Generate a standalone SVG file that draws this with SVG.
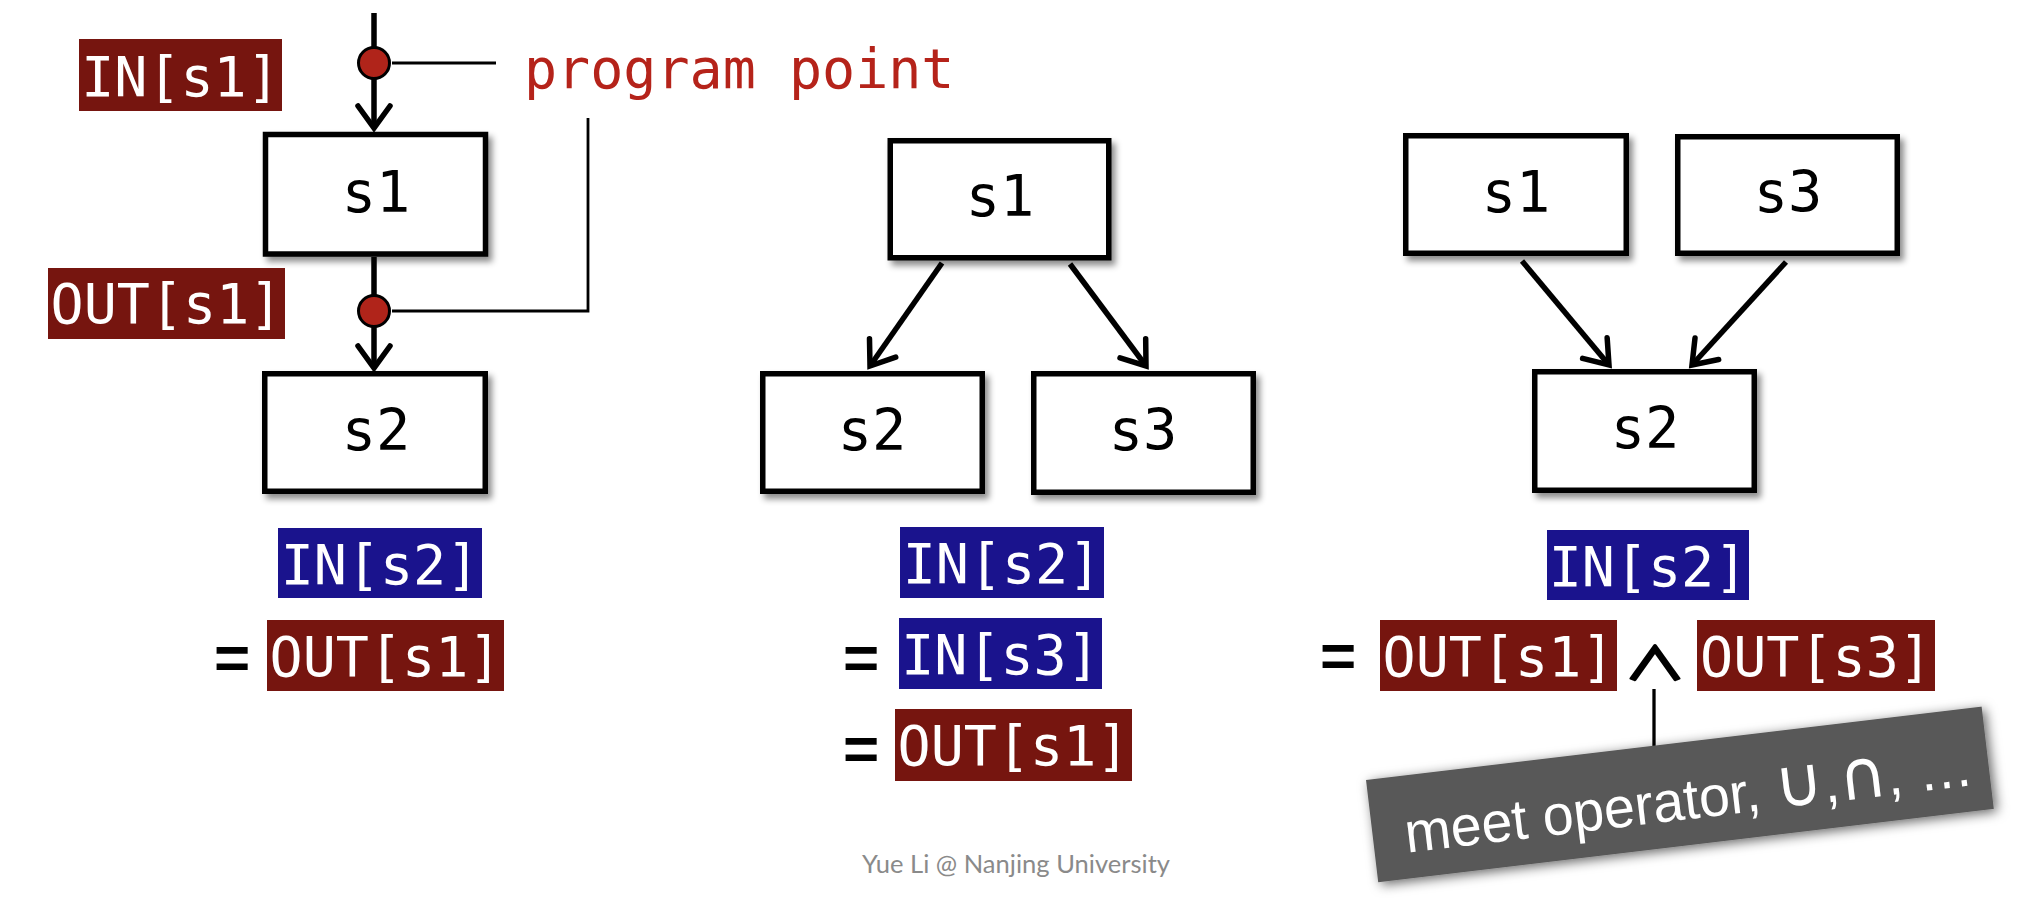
<svg xmlns="http://www.w3.org/2000/svg" width="2039" height="909" viewBox="0 0 2039 909">
<defs>
<filter id="sh" x="-10%" y="-10%" width="130%" height="140%">
<feDropShadow dx="4" dy="5" stdDeviation="3" flood-color="#000" flood-opacity="0.45"/>
</filter>
<filter id="sh2" x="-10%" y="-30%" width="125%" height="170%">
<feDropShadow dx="3" dy="3" stdDeviation="6" flood-color="#000" flood-opacity="0.6"/>
</filter>
<marker id="arr" markerUnits="userSpaceOnUse" markerWidth="40" markerHeight="40" refX="0" refY="0" orient="auto" overflow="visible">
<path d="M-22,-16 L0,0 L-22,16" fill="none" stroke="#000" stroke-width="5.5" stroke-linecap="round" stroke-linejoin="miter"/>
</marker>
</defs>
<style>
.box{fill:#fff;stroke:#000;stroke-width:5.5;filter:url(#sh)}
.bt{font-family:"DejaVu Sans Mono","Liberation Mono",monospace;font-size:57px;fill:#000;text-anchor:middle}
.lt{font-family:"DejaVu Sans Mono","Liberation Mono",monospace;font-size:55px;fill:#fff;text-anchor:middle}
.red{fill:#76150F}
.blue{fill:#1A138D}
.eq{font-family:"Liberation Sans",Arial,sans-serif;font-weight:bold;font-size:62px;fill:#000;text-anchor:middle}
.ln{fill:none;stroke:#000;stroke-width:5.5}
.thin{fill:none;stroke:#000;stroke-width:2.8}
.pt{fill:#B0241A;stroke:#000;stroke-width:3}
.op{font-family:"DejaVu Sans",sans-serif;font-size:68px}
</style>
<rect width="2039" height="909" fill="#fff"/>

<g id="connectors">
<line class="ln" x1="374" y1="13" x2="374" y2="128" marker-end="url(#arr)"/>
<line class="ln" x1="374" y1="257" x2="374" y2="368" marker-end="url(#arr)"/>
<line class="thin" x1="392" y1="63" x2="496" y2="63"/>
<polyline class="thin" points="392,311 588,311 588,118"/>
<line class="ln" x1="942" y1="263" x2="870" y2="366" marker-end="url(#arr)"/>
<line class="ln" x1="1070" y1="264" x2="1146" y2="366" marker-end="url(#arr)"/>
<line class="ln" x1="1522" y1="261" x2="1609" y2="365" marker-end="url(#arr)"/>
<line class="ln" x1="1786" y1="262" x2="1692" y2="365" marker-end="url(#arr)"/>
<line x1="1654" y1="689" x2="1654" y2="752" stroke="#000" stroke-width="3.3"/>
</g>

<g id="pp-in"><circle class="pt" cx="374" cy="63" r="15.5"/></g>
<g id="pp-out"><circle class="pt" cx="374" cy="311" r="15.5"/></g>
<g id="label-program-point"><text x="524" y="88" font-family="DejaVu Sans Mono, Liberation Mono, monospace" font-size="55" fill="#B5231A">program point</text></g>

<g id="p1-in-s1"><rect class="red" x="79" y="39" width="203" height="72"/><text class="lt" x="180.5" y="96">IN[s1]</text></g>
<g id="p1-out-s1"><rect class="red" x="48" y="268" width="237" height="71"/><text class="lt" x="166.5" y="323">OUT[s1]</text></g>

<g id="p1-s1"><rect class="box" x="265.5" y="134.5" width="220" height="119.5"/><text class="bt" x="376" y="212">s1</text></g>
<g id="p1-s2"><rect class="box" x="264.75" y="373.75" width="220.5" height="117.5"/><text class="bt" x="376" y="450">s2</text></g>

<g id="p1-eq">
<rect class="blue" x="278" y="528" width="204" height="70"/><text class="lt" x="380" y="584">IN[s2]</text>
<text class="eq" x="232" y="679">=</text>
<rect class="red" x="267" y="620" width="237" height="71"/><text class="lt" x="385.5" y="676">OUT[s1]</text>
</g>

<g id="p2-s1"><rect class="box" x="890.25" y="140.75" width="218.5" height="117"/><text class="bt" x="1000" y="216">s1</text></g>
<g id="p2-s2"><rect class="box" x="762.75" y="373.75" width="219.5" height="117.5"/><text class="bt" x="872" y="450">s2</text></g>
<g id="p2-s3"><rect class="box" x="1033.75" y="373.75" width="219.5" height="118.5"/><text class="bt" x="1143" y="450">s3</text></g>

<g id="p2-eq">
<rect class="blue" x="900" y="527" width="204" height="71"/><text class="lt" x="1002" y="583">IN[s2]</text>
<text class="eq" x="861" y="679">=</text>
<rect class="blue" x="899" y="618" width="203" height="71"/><text class="lt" x="1000.5" y="674">IN[s3]</text>
<text class="eq" x="861" y="770">=</text>
<rect class="red" x="895" y="709" width="237" height="72"/><text class="lt" x="1013.5" y="765">OUT[s1]</text>
</g>

<g id="p3-s1"><rect class="box" x="1405.75" y="135.75" width="220.5" height="117.5"/><text class="bt" x="1516" y="212">s1</text></g>
<g id="p3-s3"><rect class="box" x="1677.75" y="136.75" width="219.5" height="116.5"/><text class="bt" x="1788" y="212">s3</text></g>
<g id="p3-s2"><rect class="box" x="1534.75" y="371.75" width="219.5" height="118.5"/><text class="bt" x="1645" y="448">s2</text></g>

<g id="p3-eq">
<rect class="blue" x="1547" y="530" width="202" height="70"/><text class="lt" x="1648" y="586">IN[s2]</text>
<text class="eq" x="1338" y="677">=</text>
<rect class="red" x="1380" y="620" width="237" height="71"/><text class="lt" x="1498.5" y="676">OUT[s1]</text>
<text transform="translate(1655,680) scale(1.0,0.72)" x="0" y="0" font-family="Noto Sans CJK SC, DejaVu Sans, sans-serif" font-size="62" text-anchor="middle" fill="#000" stroke="#000" stroke-width="3.2" stroke-linejoin="round">∧</text>
<rect class="red" x="1697" y="620" width="238" height="71"/><text class="lt" x="1816" y="676">OUT[s3]</text>
</g>

<g id="meet-note" transform="translate(1366,780) rotate(-6.8)">
<rect x="0" y="0" width="620" height="103" fill="#595959" filter="url(#sh2)"/>
<text x="32" y="77" font-family="Liberation Sans, Arial, sans-serif" font-size="57" fill="#fff" textLength="572" lengthAdjust="spacingAndGlyphs">meet operator, <tspan class="op">∪</tspan>,<tspan class="op">∩</tspan>, …</text>
</g>

<g id="footer"><text x="862" y="873" font-family="Lato, Open Sans, sans-serif" font-size="25" fill="#8A8A8A" textLength="308" lengthAdjust="spacingAndGlyphs">Yue Li @ Nanjing University</text></g>
</svg>
